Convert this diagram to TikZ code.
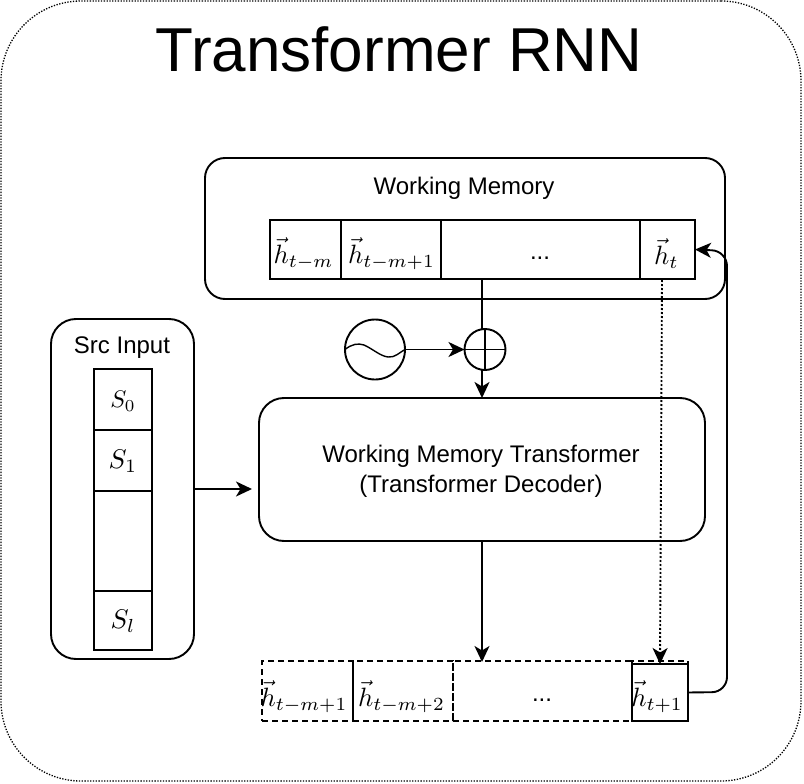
\documentclass[tikz,border=0pt]{standalone}
\usepackage{fontspec}
\setmainfont{Liberation Sans}
\usetikzlibrary{arrows.meta,calc}
\newcommand{\fsz}[1]{\fontsize{#1}{#1}\selectfont}
\tikzset{
  x=1pt,y=-1pt,
  every node/.style={inner sep=0pt,outer sep=0pt},
  ln/.style={line width=1.9pt,black},
  cell/.style={draw,ln,rectangle},
  dcell/.style={draw,ln,rectangle,dash pattern=on 6pt off 4pt},
  mathlab/.style={scale=2.65},
  arr/.style={ln,-{Stealth[length=16pt,width=15pt,inset=4.5pt]}},
}
\begin{document}
\begin{tikzpicture}
\useasboundingbox (0,0) rectangle (804,784);
\fill[white] (0,0) rectangle (804,784);
\node[draw,rounded corners=80pt,line width=1.3pt,dash pattern=on 1.3pt off 1.5pt,minimum width=800pt,minimum height=780pt] (outer) at (401,391) {};
\node[font=\fsz{62}] (title) at (399,49.5) {Transformer RNN};
% Working memory
\node[draw,ln,rounded corners=20pt,minimum width=520pt,minimum height=141pt] (wm) at (465,228.5) {};
\node[font=\fsz{24}] (wmt) at (464,188) {Working Memory};
\node[cell,minimum width=71pt,minimum height=59pt] (a1) at (305.5,249.5) {};
\node[cell,minimum width=100pt,minimum height=59pt] (a2) at (391,249.5) {};
\node[cell,minimum width=199pt,minimum height=59pt] (a3) at (540.5,249.5) {};
\node[cell,minimum width=55pt,minimum height=59pt] (a4) at (667.5,249.5) {};
\node[mathlab] (a1t) at (303.5,254) {$\vec{h}_{t-m}$};
\node[mathlab] (a2t) at (391.5,254) {$\vec{h}_{t-m+1}$};
\node[font=\fsz{24}] (a3t) at (540,258) {...};
\node[mathlab] (a4t) at (666.5,254) {$\vec{h}_{t}$};
% Oscillator and adder
\node[draw,ln,circle,minimum size=60pt] (osc) at (375,349.5) {};
\draw[line width=1.4pt] (osc.west) .. controls (352,344) and (358,343) .. (364,345) .. controls (373,349) and (380,356) .. (388,357) .. controls (395,358) and (400,352) .. (osc.east);
\node[draw,ln,circle,minimum size=41pt] (plus) at (485,349.5) {};
\draw[ln] (plus.west) -- (plus.east) (plus.north) -- (plus.south);
% Src input
\node[draw,ln,rounded corners=25pt,minimum width=143pt,minimum height=340pt] (src) at (122.5,489) {};
\node[font=\fsz{24}] (srct) at (122,348) {Src Input};
\node[cell,minimum width=58pt,minimum height=61pt] (s0) at (123,399.5) {};
\node[cell,minimum width=58pt,minimum height=61pt] (s1) at (123,460.5) {};
\node[cell,minimum width=58pt,minimum height=100pt] (s2) at (123,541) {};
\node[cell,minimum width=58pt,minimum height=59pt] (s3) at (123,620.5) {};
\node[scale=2.4] (s0t) at (123,401) {$S_0$};
\node[scale=2.7] (s1t) at (123,461) {$S_1$};
\node[scale=2.7] (s3t) at (123,621) {$S_l$};
% Transformer
\node[draw,ln,rounded corners=25pt,minimum width=446pt,minimum height=143pt] (tr) at (482,469.5) {};
\node[font=\fsz{24},align=center] (trt) at (481,471.5) {Working Memory Transformer\\[6pt](Transformer Decoder)};
% Bottom row
\node[dcell,minimum width=91pt,minimum height=60pt] (b1) at (307.5,691) {};
\node[dcell,minimum width=100pt,minimum height=60pt] (b2) at (403,691) {};
\node[dcell,minimum width=179pt,minimum height=60pt] (b3) at (542.5,691) {};
\node[dcell,minimum width=56pt,minimum height=60pt] (b4) at (660,691) {};
\node[cell,minimum width=56pt,minimum height=57pt,fill=white] (b5) at (660,692.5) {};
\node[mathlab] (b1t) at (304,697) {$\vec{h}_{t-m+1}$};
\node[mathlab] (b2t) at (401.5,697) {$\vec{h}_{t-m+2}$};
\node[font=\fsz{24}] (b3t) at (542,700) {...};
\node[mathlab] (b5t) at (657,697) {$\vec{h}_{t+1}$};
% Connectors
\coordinate (acc) at (482,279);
\draw[ln] (acc) -- (482,329);
\draw[arr] (osc.east) -- (plus.west);
\draw[arr] (plus.south -| acc) -- (tr.north -| acc);
\draw[arr] (src.east |- 0,489) -- (252,489);
\draw[arr] (tr.south -| acc) -- (482,662);
\coordinate (dtop) at (662,280);
\coordinate (dbot) at (660,664);
\draw[arr,dash pattern=on 2pt off 2pt] (dtop) -- (dbot);
\draw[arr,rounded corners=15pt] (b5.east) -- (727,692) -- (727,251) -- (a4.east);
\end{tikzpicture}
\end{document}
